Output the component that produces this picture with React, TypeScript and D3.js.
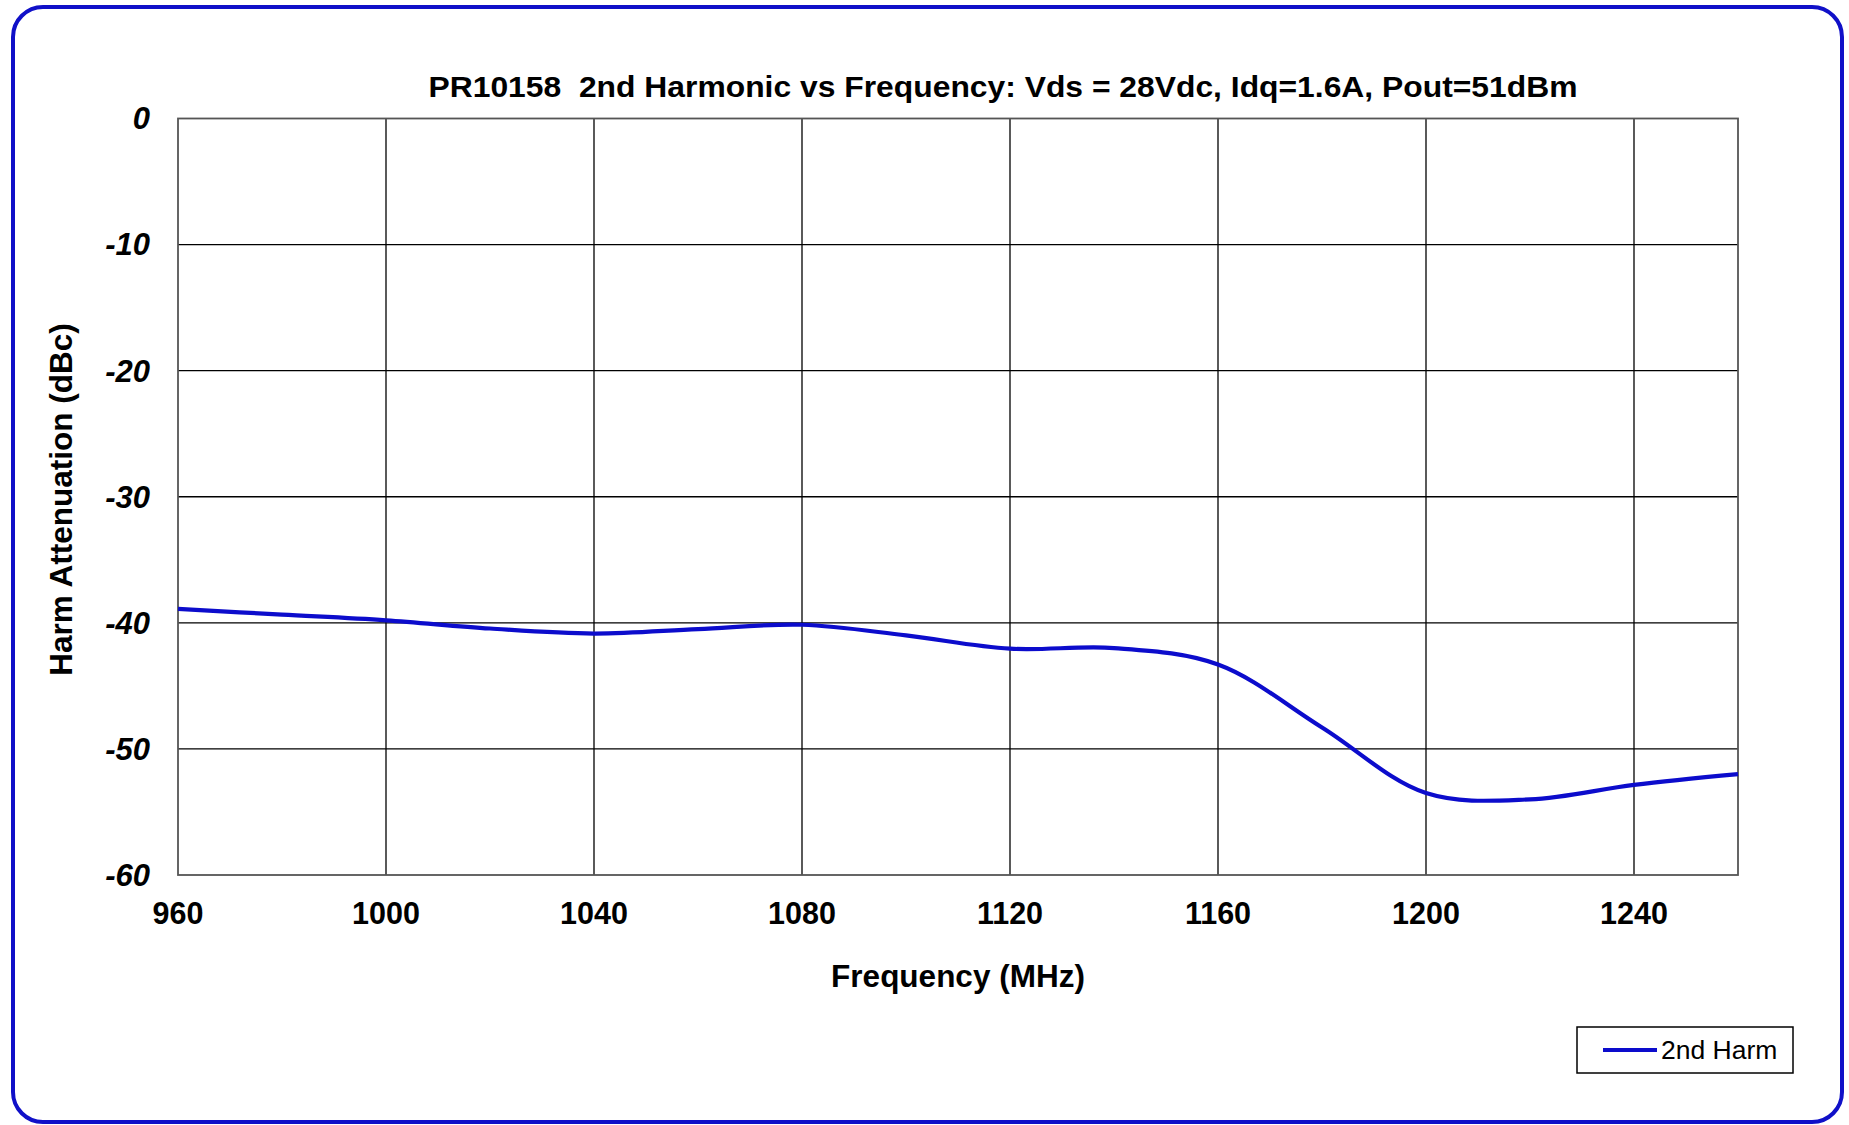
import React from "react";
import * as d3 from "d3";

const freqs = [960, 980, 1000, 1020, 1040, 1060, 1080, 1100, 1120, 1140, 1160, 1180, 1200, 1220, 1240, 1260];
const harm2 = [-38.9, -39.35, -39.8, -40.45, -40.85, -40.5, -40.15, -41.0, -42.05, -42.0, -43.3, -48.3, -53.5, -54.0, -52.85, -52.0];
const xTicks = [960, 1000, 1040, 1080, 1120, 1160, 1200, 1240];
const yTicks = [0, -10, -20, -30, -40, -50, -60];
const title = "PR10158  2nd Harmonic vs Frequency: Vds = 28Vdc, Idq=1.6A, Pout=51dBm";
const xLabel = "Frequency (MHz)";
const yLabel = "Harm Attenuation (dBc)";
const seriesName = "2nd Harm";

const W = 1849, H = 1125;
const L = 178, R = 1738, T = 118.5, B = 875;
const FONT = "'Liberation Sans', Arial, sans-serif";
const BLUE = "#0c0ccc";

export default function App() {
  const x = d3.scaleLinear().domain([960, 1260]).range([L, R]);
  const y = d3.scaleLinear().domain([-60, 0]).range([B, T]);
  const pts = freqs.map((f, i) => [f, harm2[i]] as [number, number]);
  const line = d3.line<[number, number]>()
    .x(d => x(d[0]))
    .y(d => y(d[1]))
    .curve(d3.curveCatmullRom.alpha(0.5));
  return (
    <svg width={W} height={H} style={{ position: "absolute", left: 0, top: 0, background: "#fff" }} fontFamily={FONT}>
      <rect x={0} y={0} width={W} height={H} fill="#fff" />
      <rect x={13} y={7} width={1829} height={1115} rx={30} ry={30} fill="#fff" stroke="#1010c8" strokeWidth={4} />
      <text x={1003} y={97} textAnchor="middle" fontWeight="bold" fontSize={30} textLength={1149} lengthAdjust="spacingAndGlyphs" style={{ whiteSpace: "pre" }}>{title}</text>
      {xTicks.filter(t => t !== 960).map(t => (
        <line key={"vx" + t} x1={x(t)} x2={x(t)} y1={T} y2={B} stroke="#000" strokeWidth={1.3} />
      ))}
      {yTicks.filter(t => t !== 0 && t !== -60).map(t => (
        <line key={"hy" + t} x1={L} x2={R} y1={y(t)} y2={y(t)} stroke="#000" strokeWidth={1.3} />
      ))}
      <rect x={L} y={T} width={R - L} height={B - T} fill="none" stroke="#555" strokeWidth={1.8} />
      <path d={line(pts) || ""} fill="none" stroke={BLUE} strokeWidth={4.2} />
      {yTicks.map(t => (
        <text key={"yt" + t} x={150} y={y(t)} dy="0.35em" textAnchor="end" fontWeight="bold" fontStyle="italic" fontSize={31}>{t}</text>
      ))}
      {xTicks.map(t => (
        <text key={"xt" + t} x={x(t)} y={913} dy="0.35em" textAnchor="middle" fontWeight="bold" fontSize={30.5}>{t}</text>
      ))}
      <text x={958} y={976} dy="0.35em" textAnchor="middle" fontWeight="bold" fontSize={31.5}>{xLabel}</text>
      <text transform={`translate(61,${(321 + 678) / 2}) rotate(-90)`} dy="0.35em" textAnchor="middle" fontWeight="bold" fontSize={31.5}>{yLabel}</text>
      <rect x={1577} y={1027} width={216} height={46} fill="#fff" stroke="#000" strokeWidth={1.5} />
      <line x1={1603} x2={1657} y1={1050} y2={1050} stroke={BLUE} strokeWidth={4} />
      <text x={1661} y={1050} dy="0.35em" fontSize={26.5}>{seriesName}</text>
    </svg>
  );
}
